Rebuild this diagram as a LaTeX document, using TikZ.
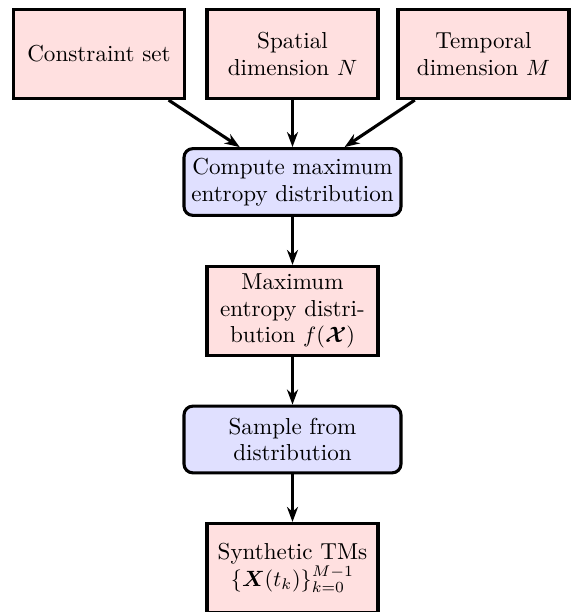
\documentclass[tikz,border=0pt]{standalone}
\usepackage{bm}
\usetikzlibrary{arrows.meta}
\begin{document}
\begin{tikzpicture}[x=0.4525pt,y=-0.4525pt,
 every node/.style={font=\fontsize{10.45pt}{12pt}\selectfont},
 pinkbox/.style={draw, line width=1.4pt, fill=red!12, minimum width=77.4pt, minimum height=40.3pt, align=center, inner sep=2pt},
 bluebox/.style={draw, line width=1.4pt, fill=blue!12, rounded corners=4pt, minimum width=98.2pt, minimum height=30.2pt, align=center, inner sep=2pt},
 arr/.style={line width=1.4pt, -{Stealth[length=6.8pt,width=5pt]}}]
\useasboundingbox (0,0) rectangle (572,612);
\node[pinkbox] (cs) at (99,54) {Constraint set};
\node[pinkbox] (sd) at (292.5,54) {Spatial\\dimension $N$};
\node[pinkbox] (td) at (483.5,54) {Temporal\\dimension $M$};
\node[bluebox] (comp) at (292.5,182) {Compute maximum\\entropy distribution};
\node[pinkbox] (med) at (292.5,311) {Maximum\\entropy distri-\\bution $f(\bm{\mathcal{X}})$};
\node[bluebox] (samp) at (292.5,439.5) {Sample from\\distribution};
\node[pinkbox] (syn) at (292.5,568) {Synthetic TMs\\$\{\bm{X}(t_k)\}_{k=0}^{M-1}$};
\draw[arr] (cs) -- (comp);
\draw[arr] (sd) -- (comp);
\draw[arr] (td) -- (comp);
\draw[arr] (comp) -- (med);
\draw[arr] (med) -- (samp);
\draw[arr] (samp) -- (syn);
\end{tikzpicture}
\end{document}
